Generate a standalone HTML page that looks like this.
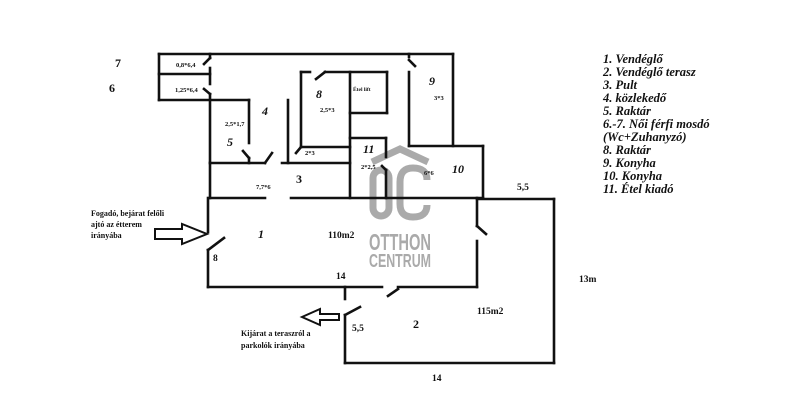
<!DOCTYPE html>
<html><head><meta charset="utf-8"><style>
html,body{margin:0;padding:0;background:#fff;}
svg{display:block}
.t{font-family:"Liberation Serif",serif;font-weight:bold;fill:#111}
.it{font-style:italic}
.lg{font-family:"Liberation Serif",serif;font-weight:bold;font-style:italic;font-size:12.5px;fill:#111}
</style></head><body>
<svg width="800" height="409" viewBox="0 0 800 409" xmlns="http://www.w3.org/2000/svg">
<rect width="800" height="409" fill="#fff"/>
<!-- watermark -->
<g fill="none" stroke="#aaaaaa" stroke-width="7">
<polyline points="372,162 400,149 428,162"/>
<rect x="373" y="170" width="16" height="46" rx="8"/>
<path d="M427,180 Q427,168 413,168 Q400,168 400,182 L400,204 Q400,217 413,217 Q427,217 427,205"/>
</g>
<text x="369" y="250" font-family="'Liberation Sans',sans-serif" font-weight="bold" font-size="23" fill="#aaaaaa" textLength="62" lengthAdjust="spacingAndGlyphs">OTTHON</text>
<text x="369" y="267" font-family="'Liberation Sans',sans-serif" font-weight="bold" font-size="18" fill="#aaaaaa" textLength="62" lengthAdjust="spacingAndGlyphs">CENTRUM</text>
<g stroke="#111" stroke-width="2.6" fill="none" stroke-linecap="square">
<line x1="159" y1="54" x2="453" y2="54"/>
<line x1="159" y1="54" x2="159" y2="100"/>
<line x1="159" y1="74" x2="210" y2="74"/>
<line x1="159" y1="100" x2="249" y2="100"/>
<line x1="210" y1="54" x2="210" y2="58"/>
<line x1="210" y1="68" x2="210" y2="84"/>
<line x1="210" y1="94" x2="210" y2="163"/>
<line x1="210" y1="58" x2="204" y2="64"/>
<line x1="210" y1="94" x2="204" y2="89"/>
<line x1="249" y1="100" x2="249" y2="143"/>
<line x1="243" y1="151" x2="249" y2="158"/>
<line x1="249" y1="158" x2="249" y2="163"/>
<line x1="210" y1="163" x2="265" y2="163"/>
<line x1="265" y1="163" x2="272" y2="153"/>
<line x1="288" y1="100" x2="288" y2="163"/>
<line x1="282" y1="163" x2="350" y2="163"/>
<line x1="301" y1="72" x2="301" y2="147"/>
<line x1="301" y1="147" x2="296" y2="153"/>
<line x1="301" y1="72" x2="310" y2="72"/>
<line x1="316" y1="79" x2="325" y2="72"/>
<line x1="325" y1="72" x2="387" y2="72"/>
<line x1="350" y1="72" x2="350" y2="198"/>
<line x1="387" y1="72" x2="387" y2="113"/>
<line x1="350" y1="113" x2="387" y2="113"/>
<line x1="301" y1="147" x2="350" y2="147"/>
<line x1="350" y1="138" x2="386" y2="138"/>
<line x1="386" y1="138" x2="386" y2="157"/>
<line x1="382" y1="166" x2="386" y2="170"/>
<line x1="386" y1="170" x2="386" y2="198"/>
<line x1="409" y1="54" x2="409" y2="57"/>
<line x1="409" y1="60" x2="415" y2="66"/>
<line x1="409" y1="72" x2="409" y2="146"/>
<line x1="453" y1="54" x2="453" y2="146"/>
<line x1="409" y1="146" x2="483" y2="146"/>
<line x1="483" y1="146" x2="483" y2="198"/>
<line x1="210" y1="163" x2="210" y2="198"/>
<line x1="210" y1="198" x2="265" y2="198"/>
<line x1="291" y1="198" x2="483" y2="198"/>
<line x1="477" y1="199" x2="554" y2="199"/>
<line x1="554" y1="199" x2="554" y2="363"/>
<line x1="345" y1="363" x2="554" y2="363"/>
<line x1="208" y1="198" x2="208" y2="232"/>
<line x1="208" y1="250" x2="224" y2="238"/>
<line x1="208" y1="250" x2="208" y2="287"/>
<line x1="208" y1="287" x2="382" y2="287"/>
<line x1="388" y1="296" x2="398" y2="289"/>
<line x1="398" y1="287" x2="477" y2="287"/>
<line x1="477" y1="198" x2="477" y2="226"/>
<line x1="477" y1="226" x2="486" y2="234"/>
<line x1="477" y1="241" x2="477" y2="287"/>
<line x1="345" y1="287" x2="345" y2="299"/>
<line x1="345" y1="315" x2="345" y2="363"/>
<line x1="345" y1="315" x2="360" y2="307"/>
</g>
<polygon points="155,229 182,229 182,224 207,234 182,244 182,239 155,239" fill="#fff" stroke="#111" stroke-width="2"/>
<polygon points="339,314 320,314 320,309 302,317 320,325 320,320 339,320" fill="#fff" stroke="#111" stroke-width="2"/>
<g class="t">
<text x="115" y="67" font-size="12">7</text>
<text x="109" y="92" font-size="12">6</text>
<text x="176" y="67" font-size="6.5">0,8*6,4</text>
<text x="175" y="92" font-size="6.5">1,25*6,4</text>
<text x="262" y="115" font-size="12" class="it">4</text>
<text x="225" y="126" font-size="6.5">2,5*1,7</text>
<text x="227" y="146" font-size="12" class="it">5</text>
<text x="316" y="98" font-size="12" class="it">8</text>
<text x="320" y="112" font-size="6.5">2,5*3</text>
<text x="353" y="91" font-size="5.5">Étel lift</text>
<text x="429" y="85" font-size="12" class="it">9</text>
<text x="434" y="100" font-size="6.5">3*3</text>
<text x="305" y="155" font-size="6.5">2*3</text>
<text x="363" y="153" font-size="12" class="it">11</text>
<text x="361" y="169" font-size="6.5">2*2,5</text>
<text x="424" y="175" font-size="6.5">6*6</text>
<text x="452" y="173" font-size="12" class="it">10</text>
<text x="296" y="183" font-size="12">3</text>
<text x="256" y="189" font-size="6.5">7,7*6</text>
<text x="517" y="190" font-size="9.5">5,5</text>
<text x="91" y="216" font-size="8">Fogadó, bejárat felőli</text>
<text x="91" y="227" font-size="8">ajtó az étterem</text>
<text x="91" y="238" font-size="8">irányába</text>
<text x="258" y="238" font-size="12" class="it">1</text>
<text x="328" y="238" font-size="9.5">110m2</text>
<text x="213" y="261" font-size="9.5">8</text>
<text x="336" y="279" font-size="9.5">14</text>
<text x="579" y="282" font-size="9.5">13m</text>
<text x="477" y="314" font-size="9.5">115m2</text>
<text x="413" y="328" font-size="12">2</text>
<text x="352" y="331" font-size="9.5">5,5</text>
<text x="241" y="336" font-size="8">Kijárat a teraszról a</text>
<text x="241" y="348" font-size="8">parkolók irányába</text>
<text x="432" y="381" font-size="9.5">14</text>
</g>
<g class="lg">
<text x="603" y="63">1. Vendéglő</text>
<text x="603" y="76">2. Vendéglő terasz</text>
<text x="603" y="89">3. Pult</text>
<text x="603" y="102">4. közlekedő</text>
<text x="603" y="115">5. Raktár</text>
<text x="603" y="128">6.-7. Női férfi mosdó</text>
<text x="603" y="141">(Wc+Zuhanyzó)</text>
<text x="603" y="154">8. Raktár</text>
<text x="603" y="167">9. Konyha</text>
<text x="603" y="180">10. Konyha</text>
<text x="603" y="193">11. Étel kiadó</text>
</g>
</svg>
</body></html>
